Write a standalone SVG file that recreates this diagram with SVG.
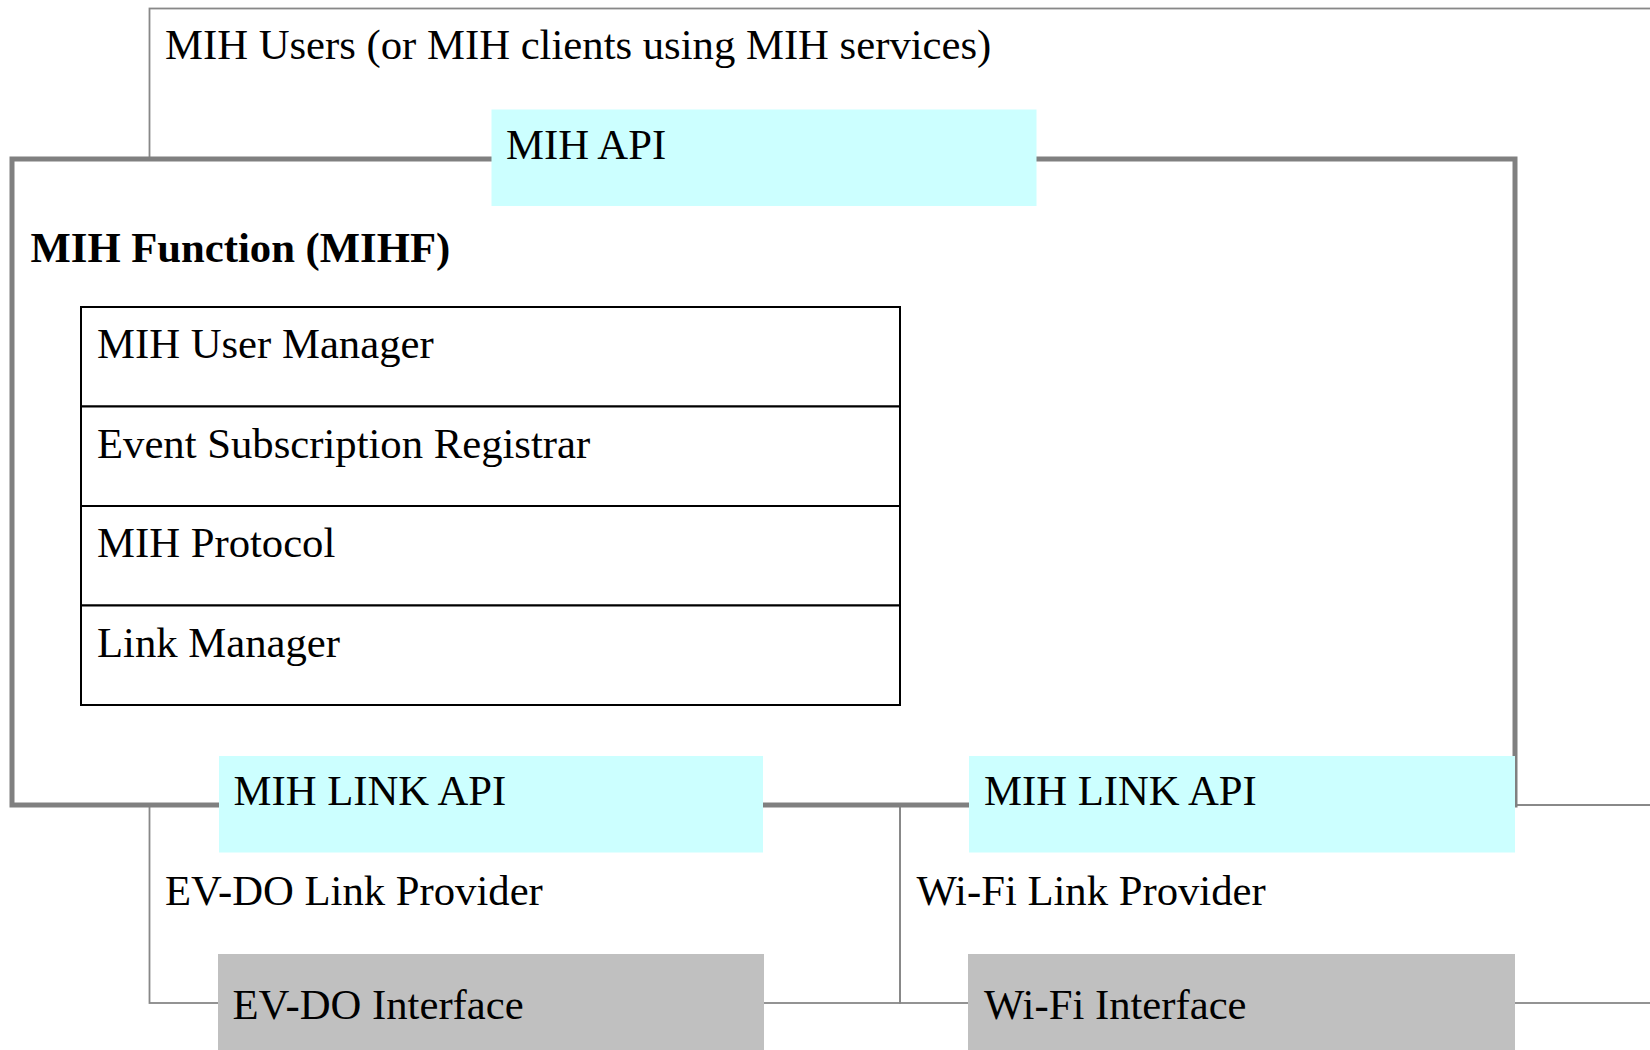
<svg xmlns="http://www.w3.org/2000/svg" width="1650" height="1050" viewBox="0 0 1650 1050">
<style>
text{font-family:"Liberation Serif","Times New Roman",serif;font-size:42.7px;fill:#000}
.bold{font-weight:bold}
.thin{fill:none;stroke:#888;stroke-width:1.8}
.thick{fill:#fff;stroke:#808080;stroke-width:5}
.api{fill:#ccffff}
.iface{fill:#c0c0c0}
.mod{fill:#fff;stroke:#000;stroke-width:2}
</style>
<rect width="1650" height="1050" fill="#fff"/>
<g id="mih-users">
<rect class="thin" x="149.5" y="8.5" width="1600" height="796.5"/>
<text x="165" y="59">MIH Users (or MIH clients using MIH services)</text>
</g>
<g id="ev-do-link-provider">
<rect class="thin" x="149.5" y="805" width="750.5" height="198"/>
<text x="165" y="905">EV-DO Link Provider</text>
</g>
<g id="wi-fi-link-provider">
<rect class="thin" x="900" y="805" width="800" height="198"/>
<text x="916.5" y="905">Wi-Fi Link Provider</text>
</g>
<g id="mihf">
<rect class="thick" x="12" y="159" width="1503" height="646"/>
<text class="bold" x="30.5" y="262">MIH Function (MIHF)</text>
</g>
<g id="mih-api">
<rect class="api" x="491.5" y="109.5" width="545" height="96.5"/>
<text x="506" y="159">MIH API</text>
</g>
<g id="mih-user-manager">
<rect class="mod" x="81" y="307" width="819" height="99.5"/>
<text x="97" y="358">MIH User Manager</text>
</g>
<g id="event-subscription-registrar">
<rect class="mod" x="81" y="406.5" width="819" height="99.5"/>
<text x="97" y="458">Event Subscription Registrar</text>
</g>
<g id="mih-protocol">
<rect class="mod" x="81" y="506" width="819" height="99.5"/>
<text x="97" y="557">MIH Protocol</text>
</g>
<g id="link-manager">
<rect class="mod" x="81" y="605.5" width="819" height="99.5"/>
<text x="97" y="657">Link Manager</text>
</g>
<g id="mih-link-api-evdo">
<rect class="api" x="219" y="756" width="544" height="96.5"/>
<text x="233.5" y="805">MIH LINK API</text>
</g>
<g id="mih-link-api-wifi">
<rect class="api" x="969" y="756" width="546" height="96.5"/>
<text x="984" y="805">MIH LINK API</text>
</g>
<g id="ev-do-interface">
<rect class="iface" x="218" y="954" width="546" height="100"/>
<text x="232.5" y="1019">EV-DO Interface</text>
</g>
<g id="wi-fi-interface">
<rect class="iface" x="968" y="954" width="547" height="100"/>
<text x="984" y="1019">Wi-Fi Interface</text>
</g>
<g id="connectors"/>
</svg>
